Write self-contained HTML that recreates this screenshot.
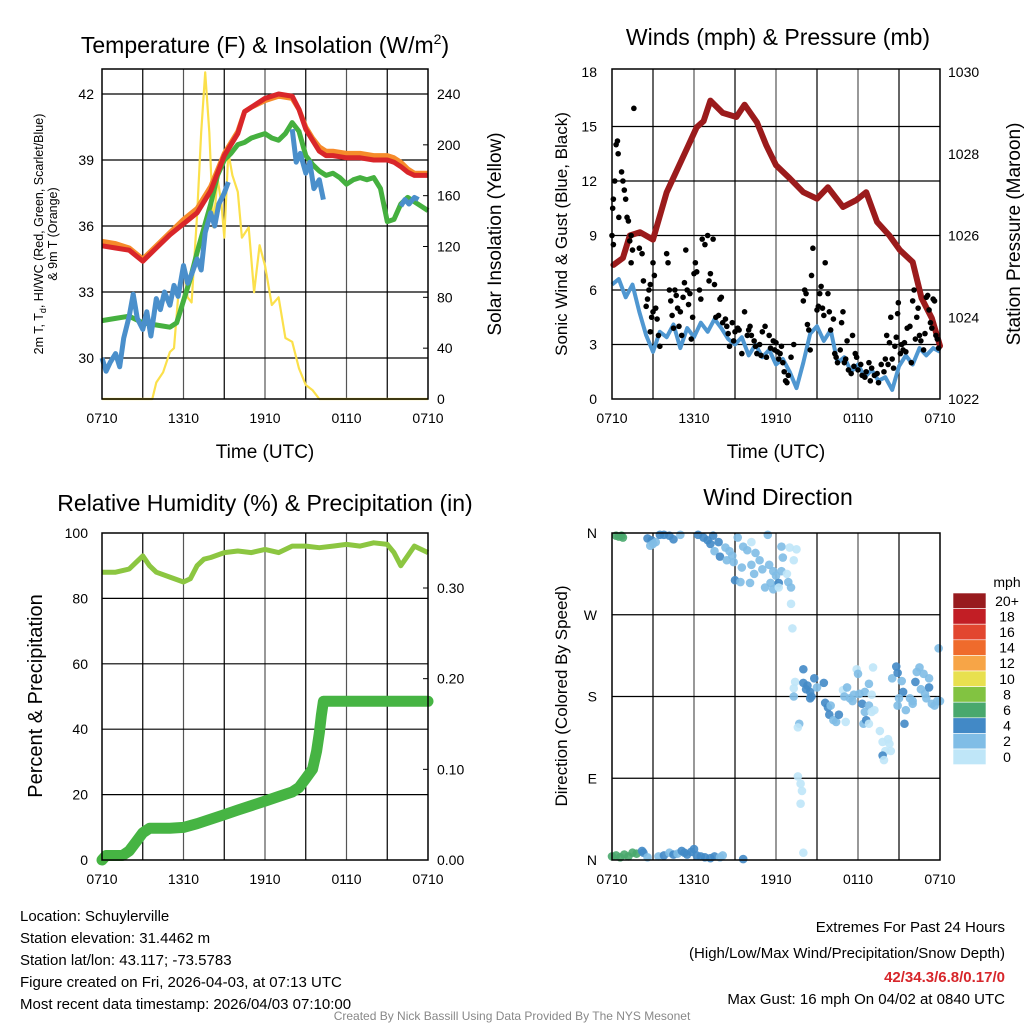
<!DOCTYPE html>
<html><head><meta charset="utf-8">
<style>
html,body{margin:0;padding:0;background:#fff;}
svg{display:block;font-family:"Liberation Sans",Arial,sans-serif;}
</style></head>
<body>
<svg id="fig" width="1024" height="1024" viewBox="0 0 1024 1024" xmlns="http://www.w3.org/2000/svg">
<rect width="1024" height="1024" fill="#fff"/>
<g id="p1"></g>
<g id="p2"></g>
<g id="p3"></g>
<g id="p4"></g>
<g id="txt">
<text x="265" y="53" font-size="23" text-anchor="middle">Temperature (F) &amp; Insolation (W/m<tspan font-size="14" dy="-9">2</tspan><tspan dy="9">)</tspan></text>
<text x="778" y="45" font-size="23" text-anchor="middle">Winds (mph) &amp; Pressure (mb)</text>
<text x="265" y="511" font-size="23" text-anchor="middle">Relative Humidity (%) &amp; Precipitation (in)</text>
<text x="778" y="505" font-size="23" text-anchor="middle">Wind Direction</text>
<text x="265" y="458" font-size="19" text-anchor="middle">Time (UTC)</text>
<text x="776" y="458" font-size="19" text-anchor="middle">Time (UTC)</text>
<text transform="translate(43,234) rotate(-90)" font-size="12.5" text-anchor="middle">2m T, T<tspan font-size="9" dy="3">d</tspan><tspan dy="-3">, HI/WC (Red, Green, Scarlet/Blue)</tspan></text>
<text transform="translate(57,234) rotate(-90)" font-size="12.5" text-anchor="middle">&amp; 9m T (Orange)</text>
<text transform="translate(501,234) rotate(-90)" font-size="19" text-anchor="middle">Solar Insolation (Yellow)</text>
<text transform="translate(567,234) rotate(-90)" font-size="17" text-anchor="middle">Sonic Wind &amp; Gust (Blue, Black)</text>
<text transform="translate(1020,234) rotate(-90)" font-size="19" text-anchor="middle">Station Pressure (Maroon)</text>
<text transform="translate(42,696) rotate(-90)" font-size="20" text-anchor="middle">Percent &amp; Precipitation</text>
<text transform="translate(567,696) rotate(-90)" font-size="17" text-anchor="middle">Direction (Colored By Speed)</text>
<g font-size="15">
<text x="20" y="921">Location: Schuylerville</text>
<text x="20" y="943">Station elevation: 31.4462 m</text>
<text x="20" y="965">Station lat/lon: 43.117; -73.5783</text>
<text x="20" y="987">Figure created on Fri, 2026-04-03, at 07:13 UTC</text>
<text x="20" y="1009">Most recent data timestamp: 2026/04/03 07:10:00</text>
</g>
<g font-size="15" text-anchor="end">
<text x="1005" y="932">Extremes For Past 24 Hours</text>
<text x="1005" y="958">(High/Low/Max Wind/Precipitation/Snow Depth)</text>
<text x="1005" y="982" fill="#d7262b" font-weight="bold">42/34.3/6.8/0.17/0</text>
<text x="1005" y="1004">Max Gust: 16 mph On 04/02 at 0840 UTC</text>
</g>
<text x="512" y="1020" font-size="12" fill="#888" text-anchor="middle">Created By Nick Bassill Using Data Provided By The NYS Mesonet</text>
</g>
</svg>
<script>
// ---------- Data ----------
const xTickLabels = ["0710","1310","1910","0110","0710"];
const xTickHours = [0,6,12,18,24];
// Panel 1
const tempTicks = [30,33,36,39,42];
const insTicks = [0,40,80,120,160,200,240];
const redH = [0,1,2,3,4,5,6,7,8,9,10,10.5,11,12,13,14,14.5,15,15.5,16,16.5,17,18,19,20,21,21.5,22,22.5,23,24];
const redV = [35.1,35.0,34.9,34.4,35.0,35.6,36.1,36.6,37.6,39.2,40.2,41.2,41.4,41.8,42.0,41.9,41.3,40.4,39.9,39.4,39.2,39.2,39.1,39.1,39.0,39.0,38.9,38.7,38.45,38.3,38.3];
const orangeV = [35.3,35.2,35.0,34.5,35.1,35.7,36.3,36.8,37.8,39.3,40.3,41.2,41.4,41.7,41.9,41.8,41.3,40.5,40.0,39.6,39.4,39.4,39.3,39.3,39.2,39.2,39.1,38.9,38.6,38.4,38.4];
const greenH = [0,1,2,3,4,5,5.5,6,6.5,7,7.5,8,8.5,9,9.5,10,10.5,11,11.5,12,12.5,13,13.5,14,14.5,15,15.5,16,16.5,17,17.5,18,18.5,19,19.5,20,20.5,21,21.5,22,22.5,23,23.5,24];
const greenV = [31.7,31.8,31.9,31.6,31.5,31.4,31.6,32.6,33.6,34.8,35.9,37.0,38.3,39.0,39.3,39.7,39.8,40.0,40.1,40.2,40.0,39.9,40.2,40.7,40.3,39.2,38.8,38.5,38.3,38.4,38.2,37.9,38.1,38.2,38.1,38.2,37.7,36.2,36.3,37.0,37.3,37.1,36.9,36.7];
const dewH = [0,0.3,0.6,1,1.3,1.6,2,2.3,2.6,3,3.3,3.6,4,4.3,4.6,5,5.3,5.6,6,6.3,6.6,7,7.3,7.6,8,8.3,8.6,9,9.3,14,14.3,14.6,15,15.3,15.6,16,16.3,22,22.3,22.6,23,23.3];
const dewV = [30.0,29.4,29.8,30.2,29.6,30.9,31.9,32.9,31.8,31.3,32.1,31.0,32.7,32.2,33.0,32.4,33.3,32.8,34.2,33.4,33.8,34.5,34.0,35.7,36.6,36.0,37.0,37.5,38.0,40.4,38.9,39.3,38.4,38.9,37.7,38.1,37.2,36.9,37.2,37.0,37.3,37.2];
const insH = [0,3.5,3.7,4,4.5,5,5.3,5.6,6,6.3,6.6,7,7.3,7.6,7.9,8.2,8.5,8.8,9,9.3,9.6,10,10.3,10.8,11.2,11.6,12,12.5,13,13.5,14,14.5,15,15.5,16,24];
const insV = [0,0,0,13,21,37,40,80,105,80,76,145,210,257,210,135,174,153,127,194,176,163,127,135,84,121,105,74,80,48,45,24,11,7,0,0];
// Panel 2
const windTicks = [0,3,6,9,12,15,18];
const presTicks = [1022,1024,1026,1028,1030];
const windH = [0,0.5,1,1.5,2,2.5,3,3.5,4,4.5,5,5.5,6,6.5,7,7.5,8,8.5,9,9.5,10,10.5,11,11.5,12,12.5,13,13.5,14,14.5,15,15.5,16,16.5,17,17.5,18,18.5,19,19.5,20,20.5,21,21.5,22,22.5,23,23.5,24];
const windV = [6.3,6.6,5.6,6.3,4.8,3.5,2.6,3.7,3.4,4.1,2.8,3.9,3.4,4.2,3.7,4.4,3.9,3.3,3.0,3.4,2.4,3.0,2.3,2.7,1.9,2.2,1.5,0.6,2.0,3.6,4.0,3.2,3.8,2.0,2.3,1.5,1.9,1.2,1.6,1.0,1.2,0.5,1.8,2.4,1.9,2.8,2.4,2.8,2.6];
const presH = [0.1,0.8,1.3,2.05,3.0,4.0,5.5,6.2,6.7,7.2,8.1,9.1,9.7,10.6,11.3,12,13,14,15,15.8,16.9,17.9,18.6,19.4,20.3,21.07,22.0,22.65,23.4,24];
const presV = [1025.28,1025.45,1026.0,1026.08,1025.9,1027.06,1028.14,1028.65,1028.8,1029.3,1029.0,1028.9,1029.2,1028.77,1028.2,1027.72,1027.4,1027.06,1026.9,1027.18,1026.7,1026.87,1027.06,1026.33,1026.0,1025.64,1025.35,1024.47,1023.98,1023.3];
const gustH = [0.05,0.1,0.2,0.3,0.4,0.45,0.0,0.1,0.5, 0.7,0.8,0.9,1.0,1.1,1.2,1.3,1.4,1.5,1.4, 1.6, 2.0,2.2,2.3,2.5, 2.6,2.7,2.8,2.9,3.0,3.1,3.2,3.3,3.4,3.5,3.0,2.8, 4.0,4.1,4.2,4.3,4.4,4.5, 4.6,4.7,4.8,4.9,5.0,5.1,5.2,5.3,5.4,5.5,5.6,5.7,5.8,5.9, 6.0,6.1,6.2,6.4,6.5,6.6,6.8,7.0,7.1,7.2,7.4,7.5,7.6,7.8,7.9, 8.0,8.1,8.3,8.4,8.5,8.6,8.8,8.9,9.0,9.2,9.3,9.5,9.7,9.9, 10.0,10.1,10.2,10.4,10.5,10.6,10.8,10.9,11.0,11.2,11.3,11.5,11.6,11.8,11.9, 12.0,12.1,12.2,12.3,12.4,12.5,12.6,12.7,12.8,12.9,13.1,13.3, 14.0,14.1,14.2,14.3,14.4,14.5,14.6,14.7, 15.0,15.1,15.2,15.3,15.4,15.5,15.6,15.8,15.9, 16.0,16.2,16.3,16.4,16.5,16.7,16.8,16.9, 17.0,17.1,17.2,17.3,17.5,17.6,17.7,17.8,17.9, 18.0,18.2,18.3,18.5,18.6,18.8,18.9,19.0,19.2,19.4,19.5,19.7,19.9, 20.0,20.1,20.2,20.3,20.4,20.5,20.6,20.7,20.8,20.9,20.95, 21.1,21.2,21.3,21.4,21.5,21.6,21.8,21.9, 22.0,22.1,22.2,22.3,22.4,22.5,22.6,22.8,22.9, 23.0,23.1,23.2,23.3,23.4,23.5,23.6,23.7,23.8,23.9];
const gustV = [10.5,11,12,14,14.2,13.5,9,8.5,10, 12.5,12,11.5,11,10,9.8,8.7,9,8.2,7.5, 16, 8.3,8,6.5,5.1, 5.5,6,3.7,4.5,7.5,6.8,5,4.4,3.5,2.9,4.8,6.3, 8,7.5,6,5.4,4.6,3.9, 6,5.7,5,4,4.8,3.5,5.6,6.4,8.2,6,5.2,5.8,3.3,4.5, 6.9,7.5,7,6,5.5,8.8,8.5,9,6.5,6.9,8.8,6.3,4.5,4.6,5.5, 5.6,4.2,4.4,4.0,3.6,2.9,4.2,3.2,3.7,3.9,3.8,2.5,4.8,3.5, 3.8,4,3.5,3.2,2.9,2.5,3,2.4,3.7,4.0,2.3,3.5,2.8,3.2,2.7, 3.1,2.6,2.2,2.5,2.9,2.0,1.5,1.0,0.9,1.3,2.3,3.0, 5.4,6.0,5.8,4.1,3.8,2.7,6.8,8.3, 4.9,5.1,5.8,6.2,5.0,4.6,7.5,5.8,4.8, 3.8,4.4,2.5,2.3,2.0,2.7,4.2,4.8, 2.0,2.2,3.2,1.6,1.4,3.5,1.8,2.5,2.3, 1.6,1.9,1.3,1.2,1.5,2.0,1.0,1.7,1.3,1.4,0.9,1.9,1.5, 2.2,3.5,1.9,3.1,4.5,2.2,1.7,2.9,3.4,4.7,5.3, 2.5,3.0,2.7,3.1,2.6,3.9,4.0,2.0, 5.4,6.0,3.3,4.5,5.0,3.5,3.2,2.7,3.6, 5.6,5.7,4.9,4.2,3.9,5.5,5.4,3.5,3.3,2.8];
// Panel 3
const rhTicks = [0,20,40,60,80,100];
const prTickVals = [0,0.1,0.2,0.3];
const prTickLabels = ["0.00","0.10","0.20","0.30"];
const rhH = [0,1,2,2.5,3,3.5,4,5,6,6.5,7,7.5,8,9,10,11,12,13,14,15,16,17,18,19,20,21,21.5,22,22.5,23,23.5,24];
const rhV = [88,88,89,91,93,90,88,86.5,85,86,90,92,92.5,94,94.5,94,95,94,96,96,95.5,96,96.5,96,97,96.5,94,90,93,96,95,94];
const prH = [0,0.3,1,1.5,2,2.5,3,3.5,4,5,6,7,8,9,10,11,12,13,14,14.5,15,15.5,15.8,16,16.15,16.3,17,20,24];
const prV = [0,0.005,0.005,0.005,0.01,0.02,0.03,0.035,0.035,0.035,0.036,0.04,0.045,0.05,0.055,0.06,0.065,0.07,0.075,0.08,0.09,0.1,0.12,0.14,0.16,0.175,0.175,0.175,0.175];
// Panel 4
const dirTickLabels = ["N","E","S","W","N"];
const dirTickVals = [0,90,180,270,360];
const dirH = [0.3,0.5,0.7,0.8, 2.6,2.9,3.0,3.2,2.8, 3.5,3.8,4.2,4.5,5.0, 6.3,6.7,7.0,7.4,7.8,7.2, 7.5,7.9,8.3,8.6,8.8,8.4,8.9, 9.2,9.6,9.9,10.2,10.5,10.8,10.2,9.5,10.4,9.0,9.4,10.1,11.0,11.5,11.8,12.0,12.4,11.6,12.1,11.2,11.8,12.2, 11.4,12.4,12.5,13.0,13.5,13.3,12.8,12.9,12.2,13.1, 13.1,13.2, 13.3,13.4,14.0,14.0,14.3,14.5,14.2,14.5,14.8,15.0,14.6,15.5, 13.3,13.7,13.6, 15.6,15.8,16.0,15.9,16.2,16.4,16.6,16.9,17.0,17.2,17.4,17.6,17.1, 17.7,17.9,18.0,18.1,18.5,18.3,18.8,18.8,19.0,18.5,19.0,18.4,19.2,18.6, 19.1,18.8,19.6,19.8,20.2,20.3,20.0,20.4,19.8,19.9, 20.5,20.8,20.9,21.2,21.3,20.9,21.0,21.5,21.8,22.0,22.2,22.3,22.5,22.8,22.6,22.9,23.2,23.0,23.4,23.6,23.8,23.9,23.2,24.0,21.4,22.0, 13.6,13.8,13.9,13.8,14.0, 0.0,0.3,0.6,0.9,1.2,1.5,1.8,2.2,2.3,2.6,3.4,3.8,4.2,4.5,4.8,5.1,5.3,5.5,5.8,6.0,6.2,6.5,6.8,7.2,7.5,7.9,8.1,9.6];
const dirD = [357,356,357,355, 354,352,348,350,346, 358,358,357,353,358, 358,355,352,357,350,348, 340,334,344,340,335,330,328, 355,345,341,350,338,330,325,322,315,308,306,305,320,325,318,313,318,305,302,300,298,305, 358,345,333,344,342,330,315,306,300,300, 282,255, 189,196,210,195,192,185,188,178,200,190,180,195, 180,150,146, 173,168,170,160,154,152,160,187,180,190,178,175,152, 182,210,205,183,185,172,170,194,182,163,163,150,165,154, 212,150,142,130,133,128,120,120,115,110, 200,213,206,197,185,170,178,165,178,172,196,207,212,205,188,183,190,178,172,170,175,233,200,175,150,175, 92,84,76,62,8, 4,5,3,6,4,8,7,10,8,3,4,5,8,6,7,10,8,6,9,12,5,4,3,2,4,3,5,1];
const dirS = [6,6,6,6, 4,4,2,2,2, 4,4,4,4,2, 4,4,4,4,4,4, 2,4,2,2,2,2,2, 2,2,2,0,2,2,2,2,2,4,2,2,2,2,2,2,2,2,2,2,2,4, 2,2,2,0,0,0,0,2,0,2, 0,0, 0,0,4,4,4,4,4,4,4,2,4,4, 2,2,0, 4,4,2,4,2,2,4,0,2,2,2,2,0, 2,0,2,2,2,4,2,2,0,2,0,2,0,4, 0,0,0,0,0,0,0,0,4,0, 2,4,4,2,4,2,2,2,2,2,4,2,2,2,2,2,4,2,2,2,2,2,2,2,4,2, 0,0,0,0,0, 6,6,6,6,6,6,6,4,4,2,2,4,2,4,2,4,4,4,4,4,4,4,4,4,4,2,2,4];
const cbLabels = ["0","2","4","6","8","10","12","14","16","18","20+"];
const cbColors = ["#bfe6f8","#80bde6","#4289c6","#49a86d","#82c341","#e8e04f","#f7a547","#ef6b2c","#e2462f","#c21e25","#981b1e"];

// ---------- Helpers ----------
const NS = "http://www.w3.org/2000/svg";
function mk(parent, tag, attrs, text){
  const e = document.createElementNS(NS, tag);
  for (const k in attrs) e.setAttribute(k, attrs[k]);
  if (text !== undefined) e.textContent = text;
  parent.appendChild(e);
  return e;
}
function scale(d0,d1,r0,r1){ return v => r0 + (v-d0)*(r1-r0)/(d1-d0); }
function pathD(H,V,fx,fy,gap){
  let d="", prev=null;
  for (let i=0;i<H.length;i++){
    const cmd = (prev===null || (gap && H[i]-prev>gap)) ? "M" : "L";
    d += cmd + fx(H[i]).toFixed(1) + "," + fy(V[i]).toFixed(1);
    prev = H[i];
  }
  return d;
}
function frame(g, x0,x1,y0,y1, fx, hGridY){
  for (let h=3; h<24; h+=3){
    const vl = mk(g,"line",{x1:fx(h),x2:fx(h),y1:y0,y2:y1,stroke:(h%6===0?"#555":"#000"),"stroke-width":1.2});
    
    
  }
  hGridY.forEach(y=>{
    const hl = mk(g,"line",{x1:x0,x2:x1,y1:y,y2:y,stroke:"#000","stroke-width":1.2});
    
    
  });
  xTickHours.forEach((h,i)=>{
    const t = mk(g,"text",{x:fx(h),y:y1+24,"font-size":14,"text-anchor":"middle"},xTickLabels[i]);
    
    
  });
}
function border(g,x0,x1,y0,y1){
  const b = mk(g,"rect",{x:x0,y:y0,width:x1-x0,height:y1-y0,fill:"none",stroke:"#000","stroke-width":1.5});
  
  
}

// ---------- Panel 1 ----------
(function(){
  const g = document.getElementById("p1");
  const x0=102,x1=428,y0=69,y1=399;
  const fx = scale(0,24,x0,x1);
  const fy = scale(42,30,94,358);
  const fi = scale(0,240,399,94);
  frame(g,x0,x1,y0,y1,fx,tempTicks.map(fy));
  tempTicks.forEach(v=>{
    const t=mk(g,"text",{x:x0-8,y:fy(v)+5,"font-size":14,"text-anchor":"end"},String(v));
    
    
  });
  insTicks.forEach(v=>{
    const t=mk(g,"text",{x:x1+9,y:fi(v)+5,"font-size":14},String(v));
    
    
    const tk=mk(g,"line",{x1:x1-5,x2:x1,y1:fi(v),y2:fi(v),stroke:"#000"});
    
    
  });
  const ins = mk(g,"path",{d:pathD(insH,insV,fx,fi),fill:"none",stroke:"#fbe04b","stroke-width":2.2,"stroke-linejoin":"round"});
  
  
  const gr = mk(g,"path",{d:pathD(greenH,greenV,fx,fy),fill:"none",stroke:"#45b03f","stroke-width":5,"stroke-linejoin":"round"});
  
  
  const bl = mk(g,"path",{d:pathD(dewH,dewV,fx,fy,1.5),fill:"none",stroke:"#4a8fcb","stroke-width":5,"stroke-linejoin":"round"});
  
  
  const or = mk(g,"path",{d:pathD(redH,orangeV,fx,fy),fill:"none",stroke:"#f68b2b","stroke-width":5,"stroke-linejoin":"round"});
  
  
  const rd = mk(g,"path",{d:pathD(redH,redV,fx,fy),fill:"none",stroke:"#d9262a","stroke-width":5,"stroke-linejoin":"round"});
  
  
  border(g,x0,x1,y0,y1);
})();

// ---------- Panel 2 ----------
(function(){
  const g = document.getElementById("p2");
  const x0=612,x1=940,y0=69,y1=399;
  const fx = scale(0,24,x0,x1);
  const fy = scale(0,18,399,72);
  const fp = scale(1022,1030,399,72);
  frame(g,x0,x1,y0,y1,fx,windTicks.slice(1,6).map(fy));
  windTicks.forEach(v=>{
    const t=mk(g,"text",{x:x0-15,y:fy(v)+5,"font-size":14,"text-anchor":"end"},String(v));
    
    
  });
  presTicks.forEach(v=>{
    const t=mk(g,"text",{x:x1+8,y:fp(v)+5,"font-size":14},String(v));
    
    
  });
  const w = mk(g,"path",{d:pathD(windH,windV,fx,fy),fill:"none",stroke:"#4f97d1","stroke-width":4,"stroke-linejoin":"round"});
  
  
  const p = mk(g,"path",{d:pathD(presH,presV,fx,fp),fill:"none",stroke:"#9b1b1c","stroke-width":6,"stroke-linejoin":"round","stroke-linecap":"round"});
  
  
  for (let i=0;i<gustH.length;i++){
    const c = mk(g,"circle",{cx:fx(gustH[i]),cy:fy(gustV[i]),r:2.8,fill:"#000"});
    
    
  }
  border(g,x0,x1,y0,y1);
})();

// ---------- Panel 3 ----------
(function(){
  const g = document.getElementById("p3");
  const x0=102,x1=428,y0=533,y1=860;
  const fx = scale(0,24,x0,x1);
  const fy = scale(0,100,860,533);
  const fr = scale(0,0.3,860,588);
  frame(g,x0,x1,y0,y1,fx,[20,40,60,80].map(fy));
  rhTicks.forEach(v=>{
    const t=mk(g,"text",{x:x0-14,y:fy(v)+5,"font-size":14,"text-anchor":"end"},String(v));
    
    
  });
  prTickVals.forEach((v,i)=>{
    const t=mk(g,"text",{x:x1+9,y:fr(v)+5,"font-size":14},prTickLabels[i]);
    
    
    const tk=mk(g,"line",{x1:x1-5,x2:x1,y1:fr(v),y2:fr(v),stroke:"#000"});
    
    
  });
  const rh = mk(g,"path",{d:pathD(rhH,rhV,fx,fy),fill:"none",stroke:"#8cc641","stroke-width":5,"stroke-linejoin":"round"});
  
  
  const pr = mk(g,"path",{d:pathD(prH,prV,fx,fr),fill:"none",stroke:"#46b443","stroke-width":11,"stroke-linejoin":"round","stroke-linecap":"round"});
  
  
  border(g,x0,x1,y0,y1);
})();

// ---------- Panel 4 ----------
(function(){
  const g = document.getElementById("p4");
  const x0=612,x1=940,y0=533,y1=860;
  const fx = scale(0,24,x0,x1);
  const fd = scale(0,360,860,533);
  frame(g,x0,x1,y0,y1,fx,[90,180,270].map(fd));
  dirTickVals.forEach((v,i)=>{
    const t=mk(g,"text",{x:x0-15,y:fd(v)+5,"font-size":14,"text-anchor":"end"},dirTickLabels[i]);
    
    
  });
  for (let i=0;i<dirH.length;i++){
    const c = mk(g,"circle",{cx:fx(dirH[i]),cy:fd(dirD[i]),r:4.3,fill:cbColors[dirS[i]/2],"fill-opacity":0.9});
    
    
  }
  border(g,x0,x1,y0,y1);
  const cb = mk(g,"g",{});
  
  
  const t0 = mk(cb,"text",{x:1007,y:587,"font-size":14,"text-anchor":"middle"},"mph");
  
  
  const bh = 15.6, top = 593;
  for (let i=0;i<cbColors.length;i++){
    const k = cbColors.length-1-i;
    const r = mk(cb,"rect",{x:953,y:top+i*bh,width:33,height:bh,fill:cbColors[k],stroke:"#fff","stroke-width":0.6});
    
    
    const t = mk(cb,"text",{x:1007,y:top+i*bh+bh/2+5,"font-size":14,"text-anchor":"middle"},cbLabels[k]);
    
    
  }
})();
</script>
</body></html>
